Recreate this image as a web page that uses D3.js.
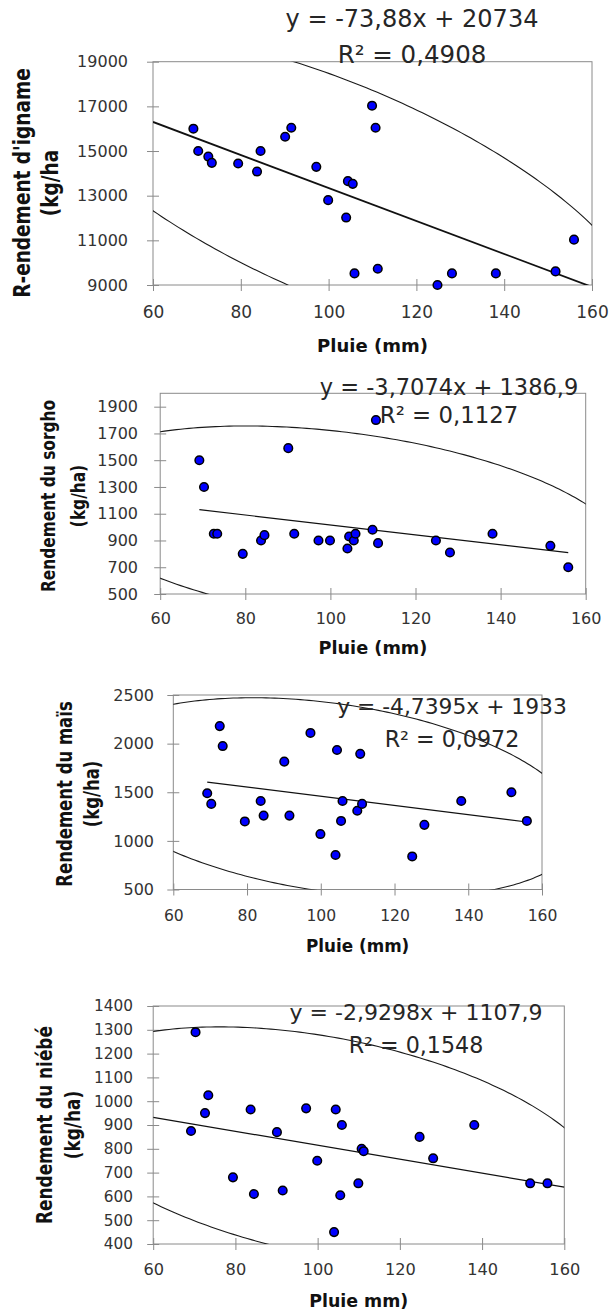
<!DOCTYPE html>
<html>
<head>
<meta charset="utf-8">
<script src="https://cdn.jsdelivr.net/npm/d3@7"></script>
<style>
  body { margin: 0; background: #fff; }
  svg { display: block; }
</style>
</head>
<body>
<div id="chart"></div>
<script>
// rainfall (mm), same years for the four crops
const rain = [69.2, 70.3, 72.6, 73.4, 79.4, 83.7, 84.5, 90.1, 91.5, 97.2, 99.9, 104.0,
              104.4, 105.5, 105.9, 109.9, 110.7, 111.2, 124.8, 128.1, 138.1, 151.7, 155.9];

// yields (kg/ha)
const igname = [16000, 15000, 14750, 14470, 14440, 14080, 15000, 15640, 16040, 14290, 12800, 12020,
                13650, 13530, 9520, 17030, 16040, 9730, 9000, 9520, 9520, 9610, 11030];
const sorgho = [1500, 1300, 950, 950, 800, 900, 940, 1590, 950, 900, 900, 840,
                930, 900, 950, 980, 1800, 880, 900, 810, 950, 860, 700];
const mais = [1490, 1380, 2180, 1975, 1200, 1410, 1260, 1815, 1260, 2110, 1070, 855,
              1935, 1205, 1410, 1310, 1895, 1380, 840, 1165, 1410, 1500, 1205];
const niebe = [875, 1290, 950, 1025, 680, 965, 610, 870, 625, 970, 750, 450,
               965, 605, 900, 655, 800, 790, 850, 760, 900, 655, 655];

const xTicks = [60, 80, 100, 120, 140, 160];
const xDomain = [60, 160];
const igTicks = [9000, 11000, 13000, 15000, 17000, 19000];
const sorTicks = [500, 700, 900, 1100, 1300, 1500, 1700, 1900];
const maisTicks = [500, 1000, 1500, 2000, 2500];
const niebeTicks = [400, 500, 600, 700, 800, 900, 1000, 1100, 1200, 1300, 1400];
const yDomains = [[9000, 19000], [500, 2000], [500, 2500], [400, 1400]];

// trend lines as printed on the charts
const slopes = [-73.88, -3.7074, -4.7395, -2.9298];
const intercepts = [20734, 1386.9, 1933, 1107.9];
const eqLabels = ["y = -73,88x + 20734", "y = -3,7074x + 1386,9", "y = -4,7395x + 1933", "y = -2,9298x + 1107,9"];
const r2Labels = ["R² = 0,4908", "R² = 0,1127", "R² = 0,0972", "R² = 0,1548"];
const yTitles = [["R-endement d'igname", "(kg/ha"], ["Rendement du sorgho", "(kg/ha)"],
                 ["Rendement du maïs", "(kg/ha)"], ["Rendement du niébé", "(kg/ha)"]];
const xTitles = ["Pluie (mm)", "Pluie (mm)", "Pluie (mm)", "Pluie mm)"];

const yields = [igname, sorgho, mais, niebe];
const yTickSets = [igTicks, sorTicks, maisTicks, niebeTicks];

// F(0.95; 2, n-2) for n = 23, used by the confidence ellipse
const F95 = 3.4668;

// layout of each pasted chart
const layout = [
  {left: 153, right: 592, top: 61.7, bottom: 285, yEnd: 128, yFs: 16, xFs: 17, xTickY: 318,
   xTitleY: 352, xTitleFs: 18, eqFs: 24, eqX: 412, eqY: 27, r2Y: 63, r2Fs: 24.5,
   ytFs: 18.5, ytScale: 1.2, yt1: 29.5, yt2: 57.5, ytY: 183, lineW: 1.8, fullLine: true},
  {left: 160.2, right: 585.7, top: 393.3, bottom: 594, yEnd: 138, yFs: 16, xFs: 16, xTickY: 624,
   xTitleY: 654, xTitleFs: 17.7, eqFs: 22.5, eqX: 449, eqY: 395, r2Y: 423, r2Fs: 22.8,
   ytFs: 15.4, ytScale: 1.3, yt1: 55, yt2: 85, ytY: 496, lineW: 1.2, fullLine: false},
  {left: 173.3, right: 542, top: 695, bottom: 889.5, yEnd: 154, yFs: 16, xFs: 15.6, xTickY: 921,
   xTitleY: 952, xTitleFs: 16.8, eqFs: 21.8, eqX: 452, eqY: 714, r2Y: 746.7, r2Fs: 22.2,
   ytFs: 16.5, ytScale: 1.3, yt1: 72, yt2: 99.4, ytY: 794, lineW: 1.2, fullLine: false},
  {left: 153.2, right: 564.3, top: 1006, bottom: 1244, yEnd: 133, yFs: 15.3, xFs: 16.2, xTickY: 1275,
   xTitleY: 1307, xTitleFs: 17.4, eqFs: 22, eqX: 416, eqY: 1020, r2Y: 1053, r2Fs: 22.2,
   ytFs: 16.9, ytScale: 1.3, yt1: 51.5, yt2: 80, ytY: 1125, lineW: 1.3, fullLine: true}
];

const W = 611, H = 1316;
const axisCol = "#8a8a8a";
const font = "'DejaVu Sans', sans-serif";

var svg = d3.select("#chart").append("svg")
  .attr("width", W)
  .attr("height", H);

svg.append("rect").attr("width", W).attr("height", H).attr("fill", "#fff");

function ellipsePoints(xs, ys) {
  let n = xs.length;
  let mx = d3.mean(xs), my = d3.mean(ys);
  let sxx = d3.sum(xs, x => (x - mx) * (x - mx)) / (n - 1);
  let syy = d3.sum(ys, y => (y - my) * (y - my)) / (n - 1);
  let sxy = d3.sum(xs.map((x, i) => (x - mx) * (ys[i] - my))) / (n - 1);
  let k = Math.sqrt(2 * (n - 1) * (n + 1) / (n * (n - 2)) * F95);
  let a = Math.sqrt(sxx), b = sxy / a, c = Math.sqrt(syy - b * b);
  return d3.range(0, 361).map(deg => {
    let t = deg * Math.PI / 180;
    return [mx + k * a * Math.cos(t), my + k * (b * Math.cos(t) + c * Math.sin(t))];
  });
}

layout.forEach((L, p) => {
  let ys = yields[p];
  let x = d3.scaleLinear().domain(xDomain).range([L.left, L.right]);
  let y = d3.scaleLinear().domain(yDomains[p]).range([L.bottom, L.top]);
  let g = svg.append("g");

  g.append("clipPath").attr("id", "clip" + p)
    .append("rect")
    .attr("x", L.left).attr("y", L.top)
    .attr("width", L.right - L.left).attr("height", L.bottom - L.top);

  // plot area frame
  g.append("rect")
    .attr("x", L.left).attr("y", L.top)
    .attr("width", L.right - L.left).attr("height", L.bottom - L.top)
    .attr("fill", "none").attr("stroke", axisCol).attr("stroke-width", 1);

  // y axis, ticks crossing the line
  let ya = g.append("g")
    .attr("transform", `translate(${L.left},0)`)
    .call(d3.axisLeft(y).tickValues(yTickSets[p]).tickSizeInner(6).tickSizeOuter(0)
      .tickPadding(L.left - L.yEnd - 6).tickFormat(d3.format("d")))
    .attr("font-family", font).attr("font-size", L.yFs);
  ya.select(".domain").remove();
  ya.selectAll(".tick line").attr("x1", 6).attr("stroke", axisCol);
  ya.selectAll(".tick text").attr("fill", "#333");

  // x axis
  let xa = g.append("g")
    .attr("transform", `translate(0,${L.bottom})`)
    .call(d3.axisBottom(x).tickValues(xTicks).tickSizeInner(6).tickSizeOuter(0))
    .attr("font-family", font).attr("font-size", L.xFs);
  xa.select(".domain").remove();
  xa.selectAll(".tick line").attr("y1", -6).attr("stroke", axisCol);
  xa.selectAll(".tick text").attr("y", L.xTickY - L.bottom).attr("dy", 0).attr("fill", "#333");

  // confidence ellipse
  let lineGen = d3.line().x(d => x(d[0])).y(d => y(d[1]));
  g.append("path")
    .datum(ellipsePoints(rain, ys))
    .attr("d", lineGen)
    .attr("clip-path", `url(#clip${p})`)
    .attr("fill", "none").attr("stroke", "#1a1a1a").attr("stroke-width", 1.1);

  // trend line
  let span = L.fullLine ? xDomain : d3.extent(rain);
  g.append("path")
    .datum(span.map(v => [v, slopes[p] * v + intercepts[p]]))
    .attr("d", lineGen)
    .attr("clip-path", `url(#clip${p})`)
    .attr("fill", "none").attr("stroke", "#111").attr("stroke-width", L.lineW);

  // points
  g.selectAll("circle.pt")
    .data(rain.map((r, i) => [r, ys[i]]))
    .enter().append("circle")
    .attr("class", "pt")
    .attr("cx", d => x(d[0]))
    .attr("cy", d => y(d[1]))
    .attr("r", 4.3)
    .attr("fill", "#0000ff")
    .attr("stroke", "#000")
    .attr("stroke-width", 1.5);

  // equation + R²
  g.append("text")
    .attr("x", L.eqX).attr("y", L.eqY)
    .attr("text-anchor", "middle")
    .style("font-family", font).style("font-size", L.eqFs + "px")
    .attr("fill", "#262626")
    .text(eqLabels[p]);
  g.append("text")
    .attr("x", L.eqX).attr("y", L.r2Y)
    .attr("text-anchor", "middle")
    .style("font-family", font).style("font-size", L.r2Fs + "px")
    .attr("fill", "#262626")
    .text(r2Labels[p]);

  // axis titles
  g.append("text")
    .attr("x", (L.left + L.right) / 2).attr("y", L.xTitleY)
    .attr("text-anchor", "middle")
    .style("font-family", font).style("font-size", L.xTitleFs + "px").style("font-weight", "bold")
    .attr("fill", "#111")
    .text(xTitles[p]);

  // rotated titles, glyphs stretched a bit like the pasted picture
  [L.yt1, L.yt2].forEach((bx, j) => {
    g.append("text")
      .attr("transform", `translate(${bx},${L.ytY}) rotate(-90) scale(1,${L.ytScale})`)
      .attr("text-anchor", "middle")
      .style("font-family", font).style("font-size", L.ytFs + "px").style("font-weight", "bold")
      .attr("fill", "#111")
      .text(yTitles[p][j]);
  });
});
</script>
</body>
</html>
